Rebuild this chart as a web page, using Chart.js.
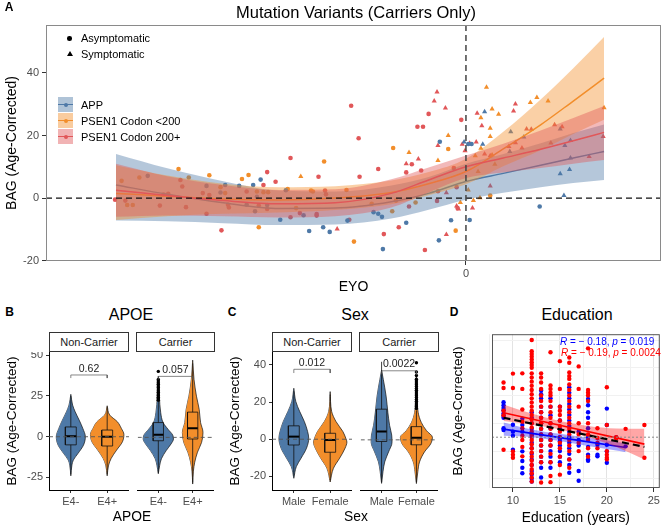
<!DOCTYPE html>
<html>
<head>
<meta charset="utf-8">
<script src="https://cdn.jsdelivr.net/npm/chart.js@4/dist/chart.umd.min.js"></script>
<style>
  body { margin: 0; background: #fff; font-family: "Liberation Sans", Arial, sans-serif; }
  #wrap { position: relative; width: 669px; height: 531px; overflow: hidden; background: #fff; }
  canvas { position: absolute; }
  .t { position: absolute; white-space: nowrap; line-height: 1; color: #000; transform: translate(-50%, -50%); }
  .l { position: absolute; white-space: nowrap; line-height: 1; color: #000; transform: translateY(-50%); }
  .tag { font-weight: bold; font-size: 12px; }
  .ttl { font-size: 16px; }
  .strip { position: absolute; top: 332px; height: 20px; box-sizing: border-box; border: 1px solid #333; background: #fff;
           font-size: 11px; color: #1a1a1a; display: flex; align-items: center; justify-content: center; }
  .key { position: absolute; left: 58px; width: 15px; height: 15px; }
  .key i { position: absolute; left: 0; right: 0; top: 6.8px; height: 1.5px; }
  .key b { position: absolute; left: 5.5px; top: 5.5px; width: 4px; height: 4px; border-radius: 50%; }
</style>
</head>
<body>
<div id="wrap">
  <canvas id="cA" width="669" height="300" style="left:0;top:0"></canvas>
  <canvas id="cB1" width="129" height="160" style="left:0;top:352px"></canvas>
  <canvas id="cB2" width="79" height="160" style="left:136px;top:352px"></canvas>
  <canvas id="cC1" width="129" height="160" style="left:223px;top:352px"></canvas>
  <canvas id="cC2" width="80" height="160" style="left:359px;top:352px"></canvas>
  <canvas id="cD" width="216" height="198" style="left:446px;top:332px"></canvas>

  <div class="t tag" style="left:9px;top:7px">A</div>
  <div class="t" style="left:356px;top:12px;font-size:16.5px">Mutation Variants (Carriers Only)</div>

  <div style="position:absolute;left:67px;top:36px;width:4.5px;height:4.5px;border-radius:50%;background:#000"></div>
  <div class="l" style="left:81px;top:38px;font-size:11px">Asymptomatic</div>
  <div style="position:absolute;left:66.5px;top:51px;width:0;height:0;border-left:3px solid transparent;border-right:3px solid transparent;border-bottom:5px solid #000"></div>
  <div class="l" style="left:81px;top:54px;font-size:11px">Symptomatic</div>

  <div class="key" style="top:97px;background:rgba(78,121,167,0.45)"><i style="background:#4E79A7"></i><b style="background:#4E79A7"></b></div>
  <div class="key" style="top:113px;background:rgba(242,142,43,0.45)"><i style="background:#F28E2B"></i><b style="background:#F28E2B"></b></div>
  <div class="key" style="top:129px;background:rgba(225,87,89,0.45)"><i style="background:#E15759"></i><b style="background:#E15759"></b></div>
  <div class="l" style="left:81px;top:105px;font-size:11px">APP</div>
  <div class="l" style="left:81px;top:121px;font-size:11px">PSEN1 Codon &lt;200</div>
  <div class="l" style="left:81px;top:137px;font-size:11px">PSEN1 Codon 200+</div>

  <div class="t tag" style="left:9.5px;top:312px">B</div>
  <div class="t ttl" style="left:131px;top:315px">APOE</div>
  <div class="strip" style="left:49px;width:80px">Non-Carrier</div>
  <div class="strip" style="left:136px;width:79px">Carrier</div>
  <div class="t" style="left:132px;top:517px;font-size:13.8px">APOE</div>

  <div class="t tag" style="left:232px;top:312px">C</div>
  <div class="t ttl" style="left:355px;top:315px">Sex</div>
  <div class="strip" style="left:272px;width:80px">Non-Carrier</div>
  <div class="strip" style="left:359px;width:80px">Carrier</div>
  <div class="t" style="left:356px;top:517px;font-size:13.8px">Sex</div>

  <div class="t tag" style="left:454px;top:312px">D</div>
  <div class="t ttl" style="left:577px;top:315px">Education</div>
  <div class="l" style="left:560px;top:341.5px;font-size:10px;color:#0000FF"><i>R</i> = − 0.18, <i>p</i> = 0.019</div>
  <div class="l" style="left:561px;top:352.5px;font-size:10px;color:#FF0000"><i>R</i> = − 0.19, <i>p</i> = 0.0024</div>
</div>

<script>
// ---------- Panel A: BAG vs EYO by mutation group ----------
const eyoTicks = [0];
const bagTicksA = [-20, 0, 20, 40];

// loess fits and ribbons, read at these EYO values
const fitEyo = [-37.5, -32, -26, -20, -14, -8, -4, 0, 4, 8, 11.5, 14.8];
const appFit = [4.2, 1.2, -1.5, -3.3, -3.2, -1.2, 1.5, 5.3, 7.9, 10.5, 12.8, 14.9];
const appHi = [14.1, 9.5, 5.4, 2.4, 2.1, 4, 6.7, 11, 14.1, 17.5, 20.8, 23.5];
const appLo = [-7.2, -7.4, -8, -8.6, -8.4, -6.5, -3.7, -0.5, 1.7, 3.5, 4.8, 5.8];
const lowFit = [1.5, 0.6, -0.3, -0.6, 0, 1.8, 4.6, 8.5, 15.7, 23.4, 31, 38.3];
const lowHi = [10.5, 7.2, 4.6, 3.5, 3.8, 5.6, 8.3, 12.6, 21.2, 31.5, 41.5, 51.5];
const lowLo = [-7, -5.8, -5, -4.6, -3.8, -2, 0.9, 4.4, 10.2, 15.3, 20.5, 25];
const highFit = [2.5, 0.8, -0.8, -1.8, -1.5, 1.5, 5.8, 10, 12.8, 15.6, 18.3, 21];
const highHi = [11, 7, 4.2, 2.6, 2.8, 6, 9.8, 13.6, 17.4, 21.6, 25.6, 29.4];
const highLo = [-6, -5.6, -5.8, -6.2, -5.8, -3, 1.8, 6.4, 8.2, 9.6, 11, 12.2];

// individual carriers [EYO, BAG]
const appAsym = [[-34.1,7.1],[-25.8,4.2],[-24.3,3.9],[-27.8,3.9],[-26.3,1.8],[-23.5,-2.1],[-22.6,-4.2],[-22,5.9],[-22.4,0.4],[-21.3,-2.2],[-19.3,2.5],[-17.4,-5.5],[-19.9,-6.9],[-16.8,-10.5],[-15.3,-9.3],[-14.6,-10.8],[-12.7,-7.2],[-9.9,-4.5],[-9.4,-5],[-9,-6],[-6.4,-7.9],[-8.9,-16.3],[-2.9,-13.5],[-1.6,-7.1],[-2.8,18],[0.25,17.3],[0.6,17.3],[0.4,-7],[7.9,-2.7],[-22.8,4.2]];
const appSym = [[2,27.6],[-0.2,17.9],[1.8,17.2],[4.8,21.2],[6.2,19.5],[10.1,22.1],[4.7,14.9],[10.6,16.8],[11.2,18.4],[11.2,12.8],[10.1,7.8],[11.1,9.1],[10.5,0.8]];
const lowAsym = [[-30.8,9.3],[-29.7,6.6],[-27.5,7.3],[-24,6.1],[-23.3,7.4],[-35,6.6],[-36.9,5.5],[-36.3,-2.2],[-35.7,-2.2],[-26.3,3.5],[-25.8,1.6],[-22.4,2.1],[-22.2,-9.3],[-16.6,2.4],[-16.4,2.1],[-12.8,2.6],[-15.2,11.7],[-19.1,2.9],[-21.7,1.9],[-21.2,1.9],[-18.2,-3.2],[-7.8,16],[-1.9,15.7],[-5.4,-1.4],[-7.5,-0.8],[-10.1,-1.8],[-7.9,-4.2],[-12,-13.9],[-1.1,-10.4],[2.6,0.8]];
const lowSym = [[-17.7,6.9],[-6.1,14.6],[-1.9,20],[-3,12],[2.2,35.4],[7.6,32.1],[6.9,30.5],[8.8,31],[1.6,25.7],[2.8,28.5],[3.5,26.8],[2.6,22.3],[2.6,19.7],[14.8,28.9],[2.8,13.8],[3.1,10.8],[1,13.5],[1.3,8.5],[0.25,2.6],[0.8,-0.8],[1.5,0.1],[-0.6,-1.4],[1.6,15.9]];
const highAsym = [[-37.6,-0.5],[-36.5,-0.8],[-32.8,-2.4],[-30.6,5.8],[-30.4,3.7],[-32.4,1.1],[-31.9,1.4],[-30,-2.9],[-27.8,-5],[-28.2,1.6],[-27.5,1],[-26.2,-10.3],[-25.5,-2.1],[-25.4,-3],[-23.5,2.1],[-22.2,-2.4],[-12.3,29.5],[-11.5,19.1],[-18.8,12.8],[-21.3,8.3],[-21.7,4.2],[-20.4,5.2],[-15.8,6.8],[-11.4,6.8],[-15.1,2.4],[-9.4,9.3],[-6.4,8.2],[-5.8,10.8],[-4.8,8.8],[-5.2,22.8],[-4.6,22.8],[-4,26.9],[-0.5,25],[-1.3,9.6],[-1,3.5],[-3,2.2],[-3.1,-0.9],[-6.1,-2.7],[-7.2,-9.3],[-8.8,-11.5],[-4.4,-16.6],[-12.5,-6.9],[-16,-5.1],[-16,-5.6],[-18.8,-6.1],[-21.3,-3.5],[-17.8,-4.8],[-15,1.2],[-0.9,-3.2]];
const highSym = [[-13.8,-9.9],[-6.4,11],[-5.1,12.5],[-3.1,33.9],[-3.4,31],[-2.2,28.8],[-3,16.8],[-2.1,1.7],[-2.1,-11.6],[-1,-2.5],[-0.8,-3.5],[1.2,27.1],[5.3,30.1],[5.1,27.8],[1.7,23.1],[1.1,17.9],[0.4,17.5],[-0.4,17.2],[-0.1,15.1],[6.5,22.1],[9.5,23.4],[10.3,22.8],[14.7,19.7],[5.3,17.7],[4.6,16.5],[6,16],[9.1,17.6],[13.2,13.3],[2.6,3.9],[2.6,13.5],[0.7,-3.2],[7,22],[2,14.1]];

// ---------- Panels B / C: violins ----------
const apoeLevels = ['E4-', 'E4+'];
const sexLevels = ['Male', 'Female'];
const apoeTicks = [-25, 0, 25, 50];
const sexTicks = [-20, 0, 20, 40];

// violin outline: BAG level and half width (category units)
const apoeNcNegY = [26, 19.4, 15.3, 10.2, 5.1, 0, -5.1, -10.2, -14.3, -17.4, -24];
const apoeNcNegW = [0, 0.05, 0.12, 0.23, 0.33, 0.4, 0.35, 0.2, 0.07, 0.03, 0];
const apoeNcPosY = [19, 13.3, 9.2, 5.1, 1.4, -3.1, -8.2, -13.3, -17.4, -24];
const apoeNcPosW = [0, 0.07, 0.28, 0.39, 0.46, 0.42, 0.26, 0.11, 0.04, 0];
const apoeCarNegY = [38, 30, 25.6, 15.3, 9.2, 5.1, 1.4, -1, -4.1, -8.2, -13.3, -17.4, -22.6];
const apoeCarNegW = [0, 0.02, 0.03, 0.07, 0.14, 0.28, 0.42, 0.44, 0.37, 0.23, 0.09, 0.04, 0];
const apoeCarPosY = [48, 35.8, 25.6, 17.4, 9.2, 3.1, -3.1, -9.2, -15.4, -21, -29];
const apoeCarPosW = [0, 0.04, 0.11, 0.19, 0.23, 0.3, 0.26, 0.14, 0.06, 0.02, 0];

const sexNcMaleY = [27.4, 20.3, 15, 9.5, 4.1, 0.5, -4.8, -10.2, -14.7, -21];
const sexNcMaleW = [0, 0.055, 0.16, 0.29, 0.38, 0.41, 0.35, 0.2, 0.07, 0];
const sexNcFemY = [25.6, 15, 9.5, 4.1, 0.5, -1.5, -4.8, -10.2, -15.6, -23];
const sexNcFemW = [0, 0.04, 0.16, 0.35, 0.43, 0.46, 0.41, 0.26, 0.09, 0];
const sexCarMaleY = [38, 32.8, 23.8, 15, 7.9, 2.6, -1.3, -6.6, -12, -17.4, -23.7];
const sexCarMaleW = [0, 0.05, 0.13, 0.18, 0.23, 0.29, 0.3, 0.2, 0.09, 0.04, 0];
const sexCarFemY = [37, 25, 15, 9.5, 5, 1.4, -2.2, -6.6, -12, -17.4, -23.8];
const sexCarFemW = [0, 0.02, 0.05, 0.14, 0.29, 0.46, 0.41, 0.23, 0.09, 0.04, 0];

// box stats: [lower whisker, q1, median, q3, upper whisker]
const apoeNcNegBox = [-23, -5, 0.3, 6, 25];
const apoeNcPosBox = [-23, -5.7, 0, 4.1, 18];
const apoeCarNegBox = [-22, -2.1, 1.6, 9.2, 22];
const apoeCarPosBox = [-28, -1, 5.7, 15.7, 46];
const sexNcMaleBox = [-20, -3.1, 1.4, 7.2, 26];
const sexNcFemBox = [-22, -7, -0.4, 3.2, 24];
const sexCarMaleBox = [-23, -0.9, 4.5, 16.7, 42.5];
const sexCarFemBox = [-23, -2.7, 1.1, 7.2, 16];

// outlying points
const apoeCarNegOut = [23, 24, 25, 26, 27, 28, 29, 30, 31, 32, 33, 34, 35, 36, 41];
const sexCarFemOut = [17, 18, 19, 20, 21, 22, 23, 24, 25, 26, 27, 28, 29, 30, 31, 32, 33, 35, 37, 42];

// Wilcoxon p values and bracket [line level, drop level]
const apoePvals = ['0.62', '0.057'];
const sexPvals = ['0.012', '0.0022'];
const apoeBracket = [37.9, 36];
const sexBracket = [37.6, 35.6];

// ---------- Panel D: BAG vs education ----------
const eduTicks = [7.5, 10, 12.5, 15, 17.5, 20, 22.5, 25];
const bagTicksD = [-15, -10, -5, 0, 5, 10, 15, 20, 25, 30, 35];
const eduRed = [[9,19.7],[9,17.7],[9,9.5],[9,7.9],[9,-4.5],
  [10,22.9],[10,17.7],[10,-5.1],[10,-6.3],[10,-7.4],
  [11,23],[11,17.4],[11,10],[11,5.6],[11,3.2],[11,0.5],[11,-1],[11,-3.5],[11,-6.9],
  [12,35],[12,31],[12,30],[12,29],[12,28],[12,27],[12,26],[12,25],[12,23],[12,21.5],[12,20],[12,18.5],[12,17],[12,15.5],[12,14],[12,12.5],[12,11],[12,9.5],[12,8],[12,6.5],[12,5],[12,3.5],[12,2],[12,0.5],[12,-1],[12,-2.5],[12,-4],[12,-5.5],[12,-7],[12,-8.5],[12,-10],[12,-11.5],[12,-13],[12,-14.5],[12,-16],
  [13,23],[13,21.5],[13,19.7],[13,17.4],[13,15],[13,13],[13,11],[13,9],[13,7],[13,5],[13,3],[13,1],[13,-1],[13,-3],[13,-5],[13,-7],[13,-9],[13,-16.3],
  [14,30.6],[14,18.6],[14,17.4],[14,16],[14,15],[14,13],[14,11],[14,9],[14,7],[14,5],[14,3],[14,1],[14,-1],[14,-3],[14,-6],[14,-9],[14,-14],[14,-16.2],
  [15,27.4],[15,17.4],[15,11],[15,9.5],[15,8],[15,6],[15,4],[15,2],[15,0],[15,-2],[15,-4],[15,-7],[15,-10],[15,-13.5],
  [16,28.7],[16,26.8],[16,23.3],[16,22],[16,21],[16,19],[16,17],[16,15],[16,13],[16,11],[16,9],[16,7],[16,5],[16,3],[16,1],[16,-1],[16,-3],[16,-5],[16,-8],[16,-11],
  [17,25.5],[17,17.4],[17,11],[17,5],[17,1],[17,-2],[17,-5],
  [18,32],[18,17],[18,16],[18,15],[18,13],[18,5],[18,1],[18,-1],[18,-4],[18,-7],
  [19,3.2],[19,-0.3],[19,-2],[19,-4],
  [20,18],[20,4.4],[20,-5],[20,-6.3],[20,-7.4],[20,-8],
  [21,0],[21,-0.5],[22,3],[24,4.4],[24,-7.4]];
const eduBlue = [[9,12.6],[9,11.5],[9,10.5],[9,9.7],[9,8.5],[9,7.7],[9,7],[9,3.2],[9,2.6],
  [10,4.5],[10,2],[10,0.5],[10,-4.5],
  [11,6.7],[11,4.4],[11,2],[11,-5.1],[11,-8.6],[11,-11],[11,-13],
  [12,9],[12,7],[12,5],[12,3],[12,1],[12,0],[12,-2],[12,-4],[12,-6],[12,-8],[12,-10],[12,-12.2],[12,-13.4],[12,-15],[12,-16],
  [13,16.8],[13,15.5],[13,14],[13,11],[13,9],[13,7],[13,5],[13,3],[13,1],[13,-1],[13,-3],[13,-5],[13,-7],[13,-9],[13,-11],[13,-14.5],
  [14,14],[14,11],[14,7.9],[14,5],[14,3.2],[14,1],[14,-1],[14,-3],[14,-5],[14,-7],[14,-9],[14,-11],
  [15,11],[15,6],[15,3],[15,0],[15,-0.5],[15,-1.5],[15,-3],[15,-5],[15,-7],[15,-9],
  [16,18],[16,16],[16,14],[16,12],[16,10],[16,8],[16,6],[16,4],[16,2],[16,0],[16,-2],[16,-4],[16,-6],[16,-8],[16,-10],[16,-12.8],
  [17,2],[17,-1],[17,-3],[17,-12.2],[17,-15.7],
  [18,13.8],[18,11.5],[18,9],[18,7],[18,3.2],[18,0],[18,-3.5],[18,-6.3],[18,-8],[18,-8.5],
  [19,-2.7],[19,-6.3],[19,-6.9],
  [20,10.3],[20,4.4],[20,-2.7],[20,-5.1],[20,-9.2],
  [21,0],[22,-3.3]];
// linear fits and 95% bands
const redBandX = [9, 12, 15, 18, 21, 24];
const redHi = [11.8, 8.5, 5.8, 4, 3.1, 3];
const redLo = [5.8, 4.5, 2.8, 0, -3.5, -8];
const blueBandX = [9, 12, 15, 18, 21, 22];
const blueHi = [5.3, 2.8, 1.2, -0.2, -1.6, -2.2];
const blueLo = [0.5, 0, -1.4, -3.2, -4.8, -5.4];
const redFitX = [9, 24], redFitY = [8.8, -2.5];
const blueFitX = [9, 22], blueFitY = [2.9, -3.7];
const allFitX = [9, 24], allFitY = [7, -3.5];

// ---------- helpers ----------
const BLUE = '#4E79A7', ORANGE = '#F28E2B', RED = '#E15759';
const TICK_GREY = '#4D4D4D';
Chart.defaults.font.family = '"Liberation Sans", Arial, sans-serif';
Chart.defaults.animation = false;
Chart.defaults.responsive = false;
Chart.defaults.plugins.legend.display = false;
Chart.defaults.plugins.tooltip.enabled = false;

const xy = arr => arr.map(p => ({x: p[0], y: p[1]}));
const zipXY = (xs, ys) => xs.map((x, i) => ({x, y: ys[i]}));

function fixW(w) { return s => { s.width = w; s.paddingTop = 0; s.paddingBottom = 0; }; }
function fixH(h) { return s => { s.height = h; s.paddingLeft = 0; s.paddingRight = 0; }; }
function setTicks(vals) { return s => { s.ticks = vals.map(v => ({value: v})); }; }

function scatter(points, color, style, r, order) {
  return {data: xy(points), showLine: false, pointStyle: style, pointRadius: r, pointHoverRadius: r,
    pointBackgroundColor: color, pointBorderColor: color, pointBorderWidth: 0, order};
}
function ribbon(xs, lo, hi, color, order) {
  return [
    {data: zipXY(xs, hi), fill: '+1', backgroundColor: color, borderWidth: 0, pointRadius: 0, cubicInterpolationMode: 'monotone', order},
    {data: zipXY(xs, lo), fill: false, borderWidth: 0, pointRadius: 0, cubicInterpolationMode: 'monotone', order}
  ];
}
function fitLine(xs, ys, color, width, order, dash) {
  return {data: zipXY(xs, ys), borderColor: color, borderWidth: width, borderDash: dash || [], pointRadius: 0,
    fill: false, cubicInterpolationMode: 'monotone', order};
}
function path(points, color, width, order, dash) {
  return {data: xy(points), borderColor: color, borderWidth: width, borderDash: dash || [], pointRadius: 0, fill: false, order};
}
function framePlugin(color, width) {
  return {id: 'frame', afterDatasetsDraw(chart) {
    const a = chart.chartArea, c = chart.ctx;
    c.save(); c.strokeStyle = color; c.lineWidth = width;
    c.strokeRect(a.left + 0.5, a.top + 0.5, a.right - a.left - 1, a.bottom - a.top - 1);
    c.restore();
  }};
}
function pvalPlugin(items) {
  return {id: 'pvals', afterDatasetsDraw(chart) {
    const c = chart.ctx;
    c.save(); c.font = '10.5px "Liberation Sans", Arial, sans-serif'; c.fillStyle = '#222';
    c.textAlign = 'center'; c.textBaseline = 'bottom';
    items.forEach(t => c.fillText(t.text, chart.scales.x.getPixelForValue(t.x), chart.scales.y.getPixelForValue(t.y) - 1));
    c.restore();
  }};
}

// ---------- Panel A ----------
new Chart(document.getElementById('cA'), {
  type: 'line',
  data: {datasets: [
    scatter(appAsym, BLUE, 'circle', 2.3, 100),
    scatter(appSym, BLUE, 'triangle', 3, 100),
    scatter(lowAsym, ORANGE, 'circle', 2.3, 100),
    scatter(lowSym, ORANGE, 'triangle', 3, 100),
    scatter(highAsym, RED, 'circle', 2.3, 100),
    scatter(highSym, RED, 'triangle', 3, 100),
    ...ribbon(fitEyo, appLo, appHi, 'rgba(78,121,167,0.42)', 61),
    fitLine(fitEyo, appFit, BLUE, 1.5, 60),
    ...ribbon(fitEyo, lowLo, lowHi, 'rgba(242,142,43,0.42)', 51),
    fitLine(fitEyo, lowFit, ORANGE, 1.5, 50),
    ...ribbon(fitEyo, highLo, highHi, 'rgba(225,87,89,0.42)', 41),
    fitLine(fitEyo, highFit, RED, 1.5, 40),
    path([[-45, 0], [20.9, 0]], '#111', 1.3, 2, [6, 4]),
    path([[0, -20.1], [0, 55.3]], '#444', 1.5, 1, [6, 4])
  ]},
  options: {
    layout: {padding: {top: 25, right: 8, left: 0, bottom: 0}},
    scales: {
      x: {type: 'linear', min: -45, max: 20.9, afterFit: fixH(39), afterBuildTicks: setTicks(eyoTicks),
        border: {display: false}, grid: {drawOnChartArea: false, tickLength: 4, color: '#333'},
        ticks: {color: TICK_GREY, font: {size: 11}, padding: 2, callback: v => String(v)},
        title: {display: true, text: 'EYO', color: '#000', font: {size: 14}, padding: {top: 2, bottom: 4}}},
      y: {type: 'linear', min: -20.1, max: 55.3, afterFit: fixW(46), afterBuildTicks: setTicks(bagTicksA),
        border: {display: false}, grid: {drawOnChartArea: false, tickLength: 4, color: '#333'},
        ticks: {color: TICK_GREY, font: {size: 11}, padding: 3, callback: v => String(v)},
        title: {display: true, text: 'BAG (Age-Corrected)', color: '#000', font: {size: 14}, padding: {top: 4, bottom: 2}}}
    }
  },
  plugins: [framePlugin('#8a8a8a', 1)]
});

// ---------- Panels B / C ----------
function violinSets(c, ys, ws, color, order) {
  const pts = ys.map((y, i) => [y, ws[i]]).sort((a, b) => a[0] - b[0]);
  return [
    {data: pts.map(p => ({x: c + p[1], y: p[0]})), fill: '+1', backgroundColor: color, borderColor: '#111',
      borderWidth: 0.7, pointRadius: 0, cubicInterpolationMode: 'monotone', order},
    {data: pts.map(p => ({x: c - p[1], y: p[0]})), fill: false, borderColor: '#111',
      borderWidth: 0.7, pointRadius: 0, cubicInterpolationMode: 'monotone', order}
  ];
}
function boxSets(c, b, h) {
  return [
    path([[c, b[0]], [c, b[1]]], '#111', 0.8, 3),
    path([[c, b[3]], [c, b[4]]], '#111', 0.8, 3),
    path([[c - h, b[1]], [c + h, b[1]], [c + h, b[3]], [c - h, b[3]], [c - h, b[1]]], '#111', 0.8, 3),
    path([[c - h, b[2]], [c + h, b[2]]], '#000', 2, 3)
  ];
}
function facetChart(id, yMin, yMax, yTicks, levels, violins, boxes, outliers, pval, bracket, showY) {
  const ds = [path([[0.4, 0], [2.6, 0]], '#555', 0.9, 1, [4, 3]),
              path([[1, bracket[1]], [1, bracket[0]], [2, bracket[0]], [2, bracket[1]]], '#555', 0.7, 2)];
  violins.forEach((v, i) => ds.push(...violinSets(i + 1, v[0], v[1], i ? ORANGE : BLUE, 20)));
  boxes.forEach((b, i) => ds.push(...boxSets(i + 1, b, 0.15)));
  outliers.forEach((o, i) => { if (o.length) ds.push(scatter(o.map(v => [i + 1, v]), '#000', 'circle', 1.7, 4)); });
  new Chart(document.getElementById(id), {
    type: 'line',
    data: {datasets: ds},
    options: {
      indexAxis: 'y',
      layout: {padding: 0},
      scales: {
        x: {type: 'linear', min: 0.4, max: 2.6, afterFit: fixH(22), afterBuildTicks: setTicks([1, 2]),
          border: {display: true, color: '#000', width: 1},
          grid: {drawOnChartArea: false, tickLength: 3, color: '#333'},
          ticks: {color: TICK_GREY, font: {size: 11}, padding: 2, callback: (v, i) => levels[i]}},
        y: {type: 'linear', min: yMin, max: yMax, display: showY, afterFit: fixW(showY ? 49 : 0), afterBuildTicks: setTicks(yTicks),
          border: {display: true, color: '#000', width: 1},
          grid: {drawOnChartArea: false, tickLength: 3, color: '#333'},
          ticks: {color: TICK_GREY, font: {size: 11}, padding: 3, callback: v => String(v)},
          title: {display: true, text: 'BAG (Age-Corrected)', color: '#000', font: {size: 13.5}, padding: {top: 4, bottom: 2}}}
      }
    },
    plugins: [pvalPlugin([{text: pval, x: 1.5, y: bracket[0]}])]
  });
}

facetChart('cB1', -32.7, 52, apoeTicks, apoeLevels,
  [[apoeNcNegY, apoeNcNegW], [apoeNcPosY, apoeNcPosW]], [apoeNcNegBox, apoeNcPosBox], [[], []],
  apoePvals[0], apoeBracket, true);
facetChart('cB2', -32.7, 52, apoeTicks, apoeLevels,
  [[apoeCarNegY, apoeCarNegW], [apoeCarPosY, apoeCarPosW]], [apoeCarNegBox, apoeCarPosBox], [apoeCarNegOut, []],
  apoePvals[1], apoeBracket, false);
facetChart('cC1', -27.3, 46.9, sexTicks, sexLevels,
  [[sexNcMaleY, sexNcMaleW], [sexNcFemY, sexNcFemW]], [sexNcMaleBox, sexNcFemBox], [[], []],
  sexPvals[0], sexBracket, true);
facetChart('cC2', -27.3, 46.9, sexTicks, sexLevels,
  [[sexCarMaleY, sexCarMaleW], [sexCarFemY, sexCarFemW]], [sexCarMaleBox, sexCarFemBox], [[], sexCarFemOut],
  sexPvals[1], sexBracket, false);

// ---------- Panel D ----------
const isMajorX = v => v % 5 === 0;
const isMajorY = v => v % 10 === 0;
new Chart(document.getElementById('cD'), {
  type: 'line',
  data: {datasets: [
    scatter(eduBlue, '#0000FF', 'circle', 2.2, 100),
    scatter(eduRed, '#FF0000', 'circle', 2.2, 99),
    ...ribbon(blueBandX, blueLo, blueHi, 'rgba(0,0,255,0.35)', 60),
    fitLine(blueFitX, blueFitY, '#0000FF', 1.6, 59),
    ...ribbon(redBandX, redLo, redHi, 'rgba(255,0,0,0.35)', 50),
    fitLine(redFitX, redFitY, '#FF0000', 1.6, 49),
    fitLine(allFitX, allFitY, '#000', 2.2, 40, [7, 4]),
    path([[7.77, 0], [25.64, 0]], '#888', 1, 30, [2, 2])
  ]},
  options: {
    layout: {padding: {top: 0, right: 2, left: 0, bottom: 0}},
    scales: {
      x: {type: 'linear', min: 7.77, max: 25.64, afterFit: fixH(42), afterBuildTicks: setTicks(eduTicks),
        border: {display: false},
        grid: {tickLength: 4, color: c => isMajorX(c.tick.value) ? '#e3e3e3' : '#f1f1f1',
          tickColor: c => isMajorX(c.tick.value) ? '#333' : 'rgba(0,0,0,0)'},
        ticks: {color: TICK_GREY, font: {size: 11}, padding: 2, callback: v => isMajorX(v) ? String(v) : ''},
        title: {display: true, text: 'Education (years)', color: '#000', font: {size: 13.8}, padding: {top: 2, bottom: 4}}},
      y: {type: 'linear', min: -18.3, max: 37.1, afterFit: fixW(46), afterBuildTicks: setTicks(bagTicksD),
        border: {display: false},
        grid: {tickLength: 4, color: c => isMajorY(c.tick.value) ? '#e3e3e3' : '#f1f1f1',
          tickColor: c => isMajorY(c.tick.value) ? '#333' : 'rgba(0,0,0,0)'},
        ticks: {color: TICK_GREY, font: {size: 11}, padding: 3, callback: v => isMajorY(v) ? String(v) : ''},
        title: {display: true, text: 'BAG (Age-Corrected)', color: '#000', font: {size: 13.5}, padding: {top: 4, bottom: 2}}}
    }
  },
  plugins: [framePlugin('#555', 1)]
});
</script>
</body>
</html>
